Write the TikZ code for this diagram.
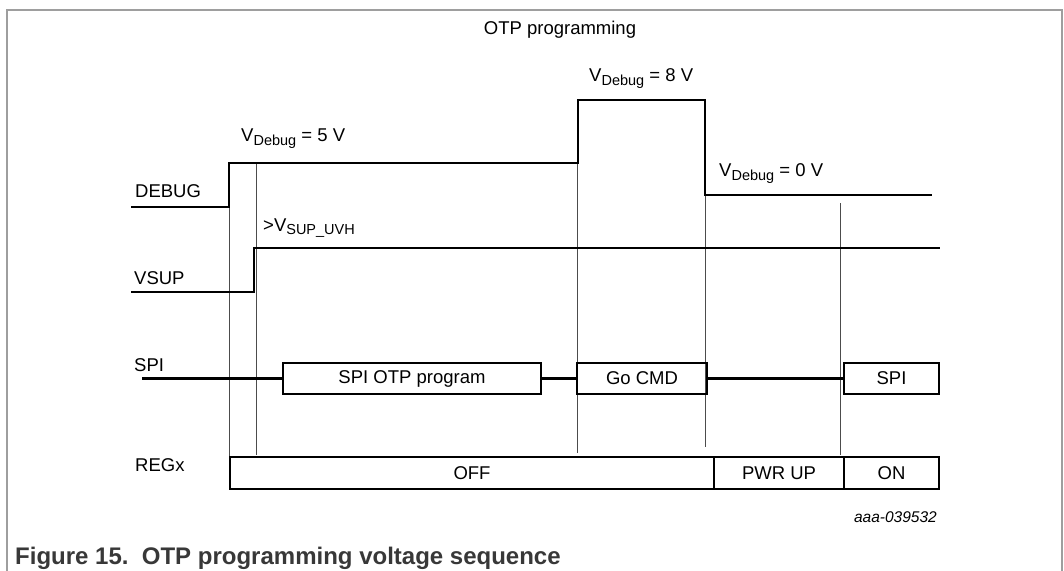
\documentclass[tikz,border=0pt]{standalone}
\usepackage{fontspec}
\setmainfont{Liberation Sans}
\newcommand{\lowsub}[1]{\raisebox{-3.5pt}{\fontsize{14.5}{15}\selectfont #1}}
\begin{document}
\begin{tikzpicture}[x=1pt,y=-1pt,
  sig/.style={line width=2.6pt, line join=miter},
  guide/.style={line width=0.9pt, black!70},
  lbl/.style={font=\fontsize{18.5}{20}\selectfont, inner sep=0pt, anchor=base west},
  sbox/.style={draw, line width=1.8pt, minimum height=31pt, inner sep=0pt, font=\fontsize{18.5}{20}\selectfont},
  frame/.style={draw=black!38, line width=1.2pt}]
\useasboundingbox (0,0) rectangle (1064,570);
% frame
\draw[frame] (7,575) -- (7,10) -- (1062,10) -- (1062,575);
% title
\node[lbl, anchor=base] (title) at (560,34) {OTP programming};
% guides
\draw[guide] (229,163) -- (229,462);
\draw[guide] (256,163) -- (256,455);
\draw[guide] (577,100) -- (577,453);
\draw[guide] (705,100) -- (705,447);
\draw[guide] (840,203) -- (840,455);
% row labels
\node[lbl] (ldebug) at (135,197) {DEBUG};
\node[lbl] (lvsup) at (134,284) {VSUP};
\node[lbl] (lspi) at (134,371) {SPI};
\node[lbl] (lreg) at (135,471) {REGx};
% DEBUG waveform
\draw[sig] (131,207) -- (229,207) -- (229,163) -- (578,163) -- (578,100) -- (705,100) -- (705,195) -- (932,195);
\node[lbl] (v5) at (241,141.5) {V\lowsub{Debug} = 5 V};
\node[lbl] (v8) at (589,81.5) {V\lowsub{Debug} = 8 V};
\node[lbl] (v0) at (719,176.5) {V\lowsub{Debug} = 0 V};
% VSUP waveform
\draw[sig] (131,292) -- (254,292) -- (254,248) -- (940,248);
\node[lbl] (vuvh) at (263,231) {>V\lowsub{SUP\_UVH}};
% SPI row
\coordinate (spistart) at (142,378.5);
\node[sbox, minimum width=258pt] (otp) at (412,378.5) {SPI OTP program};
\node[sbox, minimum width=130pt] (go) at (642,378.5) {Go CMD};
\node[sbox, minimum width=95pt] (spi) at (891.5,378.5) {SPI};
\draw[sig] (spistart) -- (otp.west);
\draw[sig] (otp.east) -- (go.west);
\draw[sig] (go.east) -- (spi.west);
% REGx row
\node[sbox, minimum width=484pt, minimum height=32pt] (off) at (472,473) {OFF};
\node[sbox, minimum width=130pt, minimum height=32pt] (pwr) at (779,473) {PWR UP};
\node[sbox, minimum width=95pt, minimum height=32pt] (on) at (891.5,473) {ON};
% id
\node[inner sep=0pt, anchor=base east, font=\fontsize{15.5}{17}\selectfont\itshape] (id) at (937,522) {aaa-039532};
% caption
\node[inner sep=0pt, anchor=base west, font=\fontsize{24}{26}\selectfont\bfseries, text=black!78] (cap) at (15,564) {Figure 15.\ \ OTP programming voltage sequence};
\end{tikzpicture}
\end{document}
